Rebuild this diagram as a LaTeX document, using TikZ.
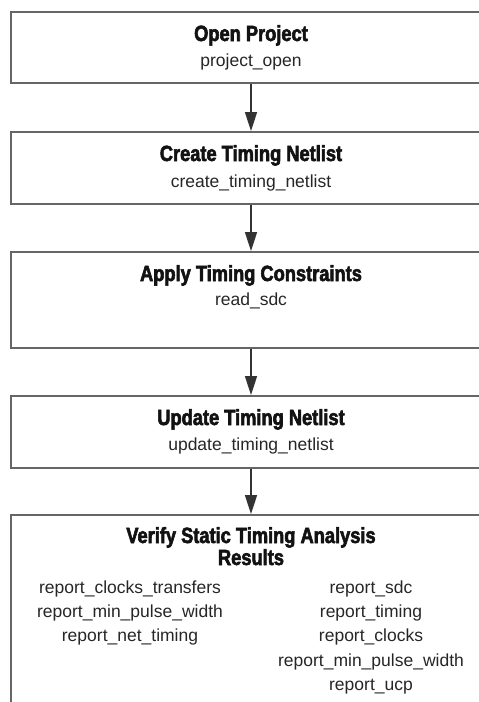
\documentclass[tikz,border=0pt]{standalone}
\usepackage{fontspec}
\setmainfont{Liberation Sans}
\newfontfamily\titlefont[FakeStretch=0.83,FakeBold=2.6]{Liberation Sans Bold}
\usetikzlibrary{arrows.meta}
\definecolor{boxgray}{HTML}{666666}
\definecolor{arrgray}{HTML}{333333}
\definecolor{txtdark}{HTML}{121212}
\definecolor{txtsub}{HTML}{262626}
\begin{document}
\begin{tikzpicture}[x=1pt,y=-1pt,
  box/.style={draw=boxgray,line width=1.6pt,minimum width=480pt,inner sep=0pt,anchor=north},
  ttl/.style={anchor=base,inner sep=0pt,font=\titlefont\fontsize{22}{23}\selectfont,text=txtdark},
  sub/.style={anchor=base,inner sep=0pt,font=\fontsize{17.5}{20}\selectfont,text=txtsub},
  arr/.style={draw=arrgray,line width=1.6pt,-{Triangle[length=19pt,width=12pt]}}]
\clip (0,0) rectangle (479,702);
% boxes
\node[box,minimum height=71pt] (b1) at (251,11) {};
\node[box,minimum height=72pt] (b2) at (251,131) {};
\node[box,minimum height=96pt] (b3) at (251,251) {};
\node[box,minimum height=72pt] (b4) at (251,395) {};
\node[box,minimum height=220pt] (b5) at (251,514) {};
% texts
\node[ttl] (t1) at (251,41) {Open Project};
\node[sub] (s1) at (251,66) {project\_open};
\node[ttl] (t2) at (251,161) {Create Timing Netlist};
\node[sub] (s2) at (251,187) {create\_timing\_netlist};
\node[ttl] (t3) at (251,281) {Apply Timing Constraints};
\node[sub] (s3) at (251,305) {read\_sdc};
\node[ttl] (t4) at (251,425) {Update Timing Netlist};
\node[sub] (s4) at (251,450) {update\_timing\_netlist};
\node[ttl] (t5a) at (251,543) {Verify Static Timing Analysis};
\node[ttl] (t5b) at (251,565) {Results};
\node[sub] (l1) at (130,593) {report\_clocks\_transfers};
\node[sub] (l2) at (130,617) {report\_min\_pulse\_width};
\node[sub] (l3) at (130,641) {report\_net\_timing};
\node[sub] (r1) at (371,593) {report\_sdc};
\node[sub] (r2) at (371,617) {report\_timing};
\node[sub] (r3) at (371,641) {report\_clocks};
\node[sub] (r4) at (371,666) {report\_min\_pulse\_width};
\node[sub] (r5) at (371,690) {report\_ucp};
% arrows
\draw[arr] (b1.south) -- (b2.north);
\draw[arr] (b2.south) -- (b3.north);
\draw[arr] (b3.south) -- (b4.north);
\draw[arr] (b4.south) -- (b5.north);
\end{tikzpicture}
\end{document}
